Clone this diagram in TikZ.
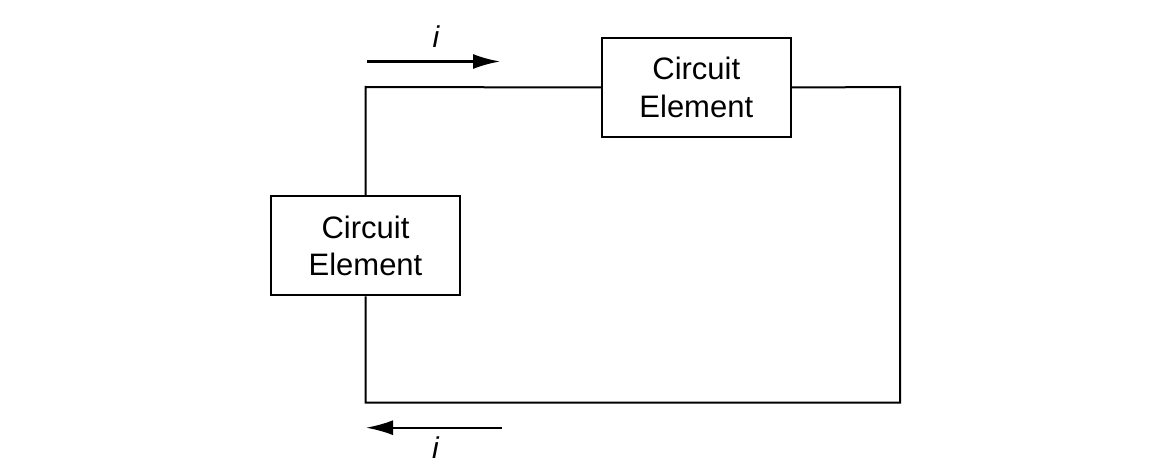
\documentclass[tikz,border=0pt]{standalone}
\usepackage{fontspec}
\setmainfont{Liberation Sans}
\usetikzlibrary{arrows.meta}
\begin{document}
\begin{tikzpicture}[x=1pt,y=-1pt,
  elem/.style={draw,line width=2pt,minimum width=189pt,minimum height=99pt,inner sep=0pt,
    align=center,font=\fontsize{31}{37.5}\selectfont},
  wire/.style={line width=2pt},
  curarrow/.style={line width=2.2pt,-{Latex[length=27pt,width=15pt]}},
  curlabel/.style={font=\fontsize{30}{34}\selectfont\itshape,inner sep=0pt}]
\useasboundingbox (0,0) rectangle (1149,465);
\node[elem] (top) at (696.3,87.5) {Circuit\\Element};
\node[elem] (left) at (365.5,245.8) {Circuit\\Element};
\coordinate (tl) at (365.5,87);
\coordinate (tr) at (900,87);
\coordinate (br) at (900,402.5);
\coordinate (bl) at (365.5,402.5);
\draw[wire] (left.north) -- (tl) -- (top.west);
\draw[wire] (top.east) -- (tr) -- (br) -- (bl) -- (left.south);
\coordinate (a1s) at (367,61.5);
\coordinate (a1e) at (500,61.5);
\coordinate (a2s) at (502,427.7);
\coordinate (a2e) at (366,427.7);
\draw[curarrow] (a1s) -- (a1e);
\draw[curarrow] (a2s) -- (a2e);
\node[curlabel] (i1) at (436,37) {i};
\node[curlabel] (i2) at (435.5,448) {i};
\end{tikzpicture}
\end{document}
